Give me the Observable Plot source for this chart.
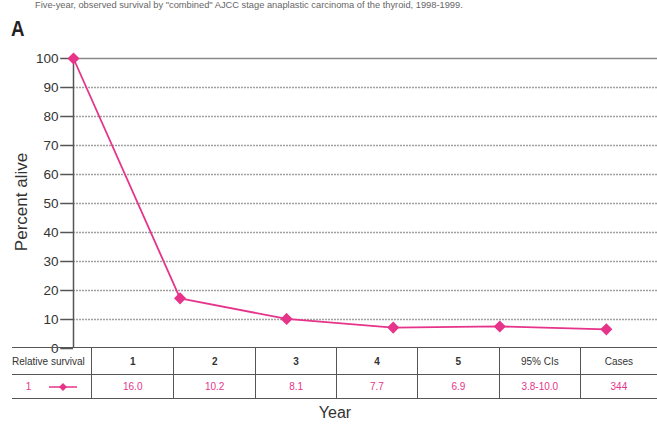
<!DOCTYPE html>
<html>
<head>
<meta charset="utf-8">
<script src="https://cdn.jsdelivr.net/npm/d3@7"></script>
<script src="https://cdn.jsdelivr.net/npm/@observablehq/plot@0.6"></script>
<style>
  html, body { margin: 0; padding: 0; background: #fff; }
  body { width: 657px; height: 427px; position: relative; overflow: hidden; font-family: "Liberation Sans", Arial, sans-serif; }
  #title { position: absolute; left: 35px; top: 0px; font-size: 9.3px; color: #666; white-space: nowrap; }
  #panel { position: absolute; left: 11px; top: 16px; font-size: 22px; font-weight: bold; color: #222; transform: scaleX(0.85); transform-origin: left top; }
  #chart { position: absolute; left: 0; top: 0; }
  #ylab { position: absolute; left: 22px; top: 202px; transform: translate(-50%, -50%) rotate(-90deg); font-size: 17px; color: #333; white-space: nowrap; }
  #table { position: absolute; left: 12px; top: 347px; border-collapse: collapse; font-size: 10px; }
  #table td { border-top: 1.5px solid #555; border-bottom: 1.5px solid #555; border-left: 1.5px solid #555; text-align: center; padding: 0; }
  #table td:first-child { border-left: none; }
  #table tr.h td { height: 26px; color: #333; }
  #table tr.v td { height: 23px; color: #e6348a; }
  #xlab { position: absolute; left: 335px; top: 404px; transform: translateX(-50%); font-size: 16px; color: #333; }
</style>
</head>
<body>
<div id="title">Five-year, observed survival by "combined" AJCC stage anaplastic carcinoma of the thyroid, 1998-1999.</div>
<div id="panel">A</div>
<div id="chart"></div>
<div id="ylab">Percent alive</div>
<table id="table"></table>
<div id="xlab">Year</div>
<script>
const years = [0, 1, 2, 3, 4, 5];
const percentAlive = [100, 17.3, 10.2, 7.2, 7.6, 6.6];
const yTicks = [0, 10, 20, 30, 40, 50, 60, 70, 80, 90, 100];
const tableHeaders = ["Relative survival", "1", "2", "3", "4", "5", "95% CIs", "Cases"];
const tableValues = ["1", "16.0", "10.2", "8.1", "7.7", "6.9", "3.8-10.0", "344"];
const colWidths = [80, 82, 82, 81, 81, 82, 81, 77];

const data = years.map((y, i) => ({year: y, pct: percentAlive[i]}));
const pink = "#e6348a";

const plot = Plot.plot({
  width: 657,
  height: 352,
  marginTop: 58,
  marginBottom: 4,
  marginLeft: 73,
  marginRight: 0,
  style: {fontFamily: "Liberation Sans, Arial, sans-serif", background: "transparent", overflow: "visible"},
  x: {type: "linear", domain: [0, 5.48], axis: null},
  y: {type: "linear", domain: [0, 100], axis: null},
  marks: [
    Plot.ruleY(yTicks.filter(d => d > 0 && d < 100), {x1: 0, x2: 5.48, stroke: "#a0a0a0", strokeWidth: 1.3, strokeDasharray: "2,1"}),
    Plot.ruleY([100], {x1: 0, x2: 5.48, stroke: "#8a8a8a", strokeWidth: 1.3}),
    Plot.ruleY(yTicks, {x1: -0.12, x2: 0, stroke: "#555", strokeWidth: 1.5}),
    Plot.ruleX([0], {y1: 0, y2: 100, stroke: "#555", strokeWidth: 1.5}),
    Plot.text(yTicks, {x: () => 0, y: d => d, text: d => String(d), dx: -15, textAnchor: "end", fontSize: 13.5, fill: "#333"}),
    Plot.line(data, {x: "year", y: "pct", stroke: pink, strokeWidth: 1.8}),
    Plot.dot(data, {x: "year", y: "pct", symbol: "diamond2", r: 4.5, fill: pink, stroke: pink})
  ]
});
document.getElementById("chart").appendChild(plot);

const table = document.getElementById("table");
const trh = document.createElement("tr"); trh.className = "h";
tableHeaders.forEach((h, i) => {
  const td = document.createElement("td");
  td.style.width = colWidths[i] + "px";
  td.textContent = h;
  if (i >= 1 && i <= 5) td.style.fontWeight = "bold";
  if (i === 0) { td.style.fontSize = "10px"; td.style.textAlign = "left"; }
  trh.appendChild(td);
});
table.appendChild(trh);
const trv = document.createElement("tr"); trv.className = "v";
tableValues.forEach((v, i) => {
  const td = document.createElement("td");
  td.style.width = colWidths[i] + "px";
  if (i === 0) {
    td.innerHTML = '<span style="margin-right:18px">' + v + '</span>' +
      '<svg width="28" height="10" style="vertical-align:middle"><line x1="0" y1="5" x2="28" y2="5" stroke="' + pink + '" stroke-width="1.5"/><path d="M14 1 L18 5 L14 9 L10 5 Z" fill="' + pink + '"/></svg>';
  } else {
    td.textContent = v;
  }
  trv.appendChild(td);
});
table.appendChild(trv);
</script>
</body>
</html>
